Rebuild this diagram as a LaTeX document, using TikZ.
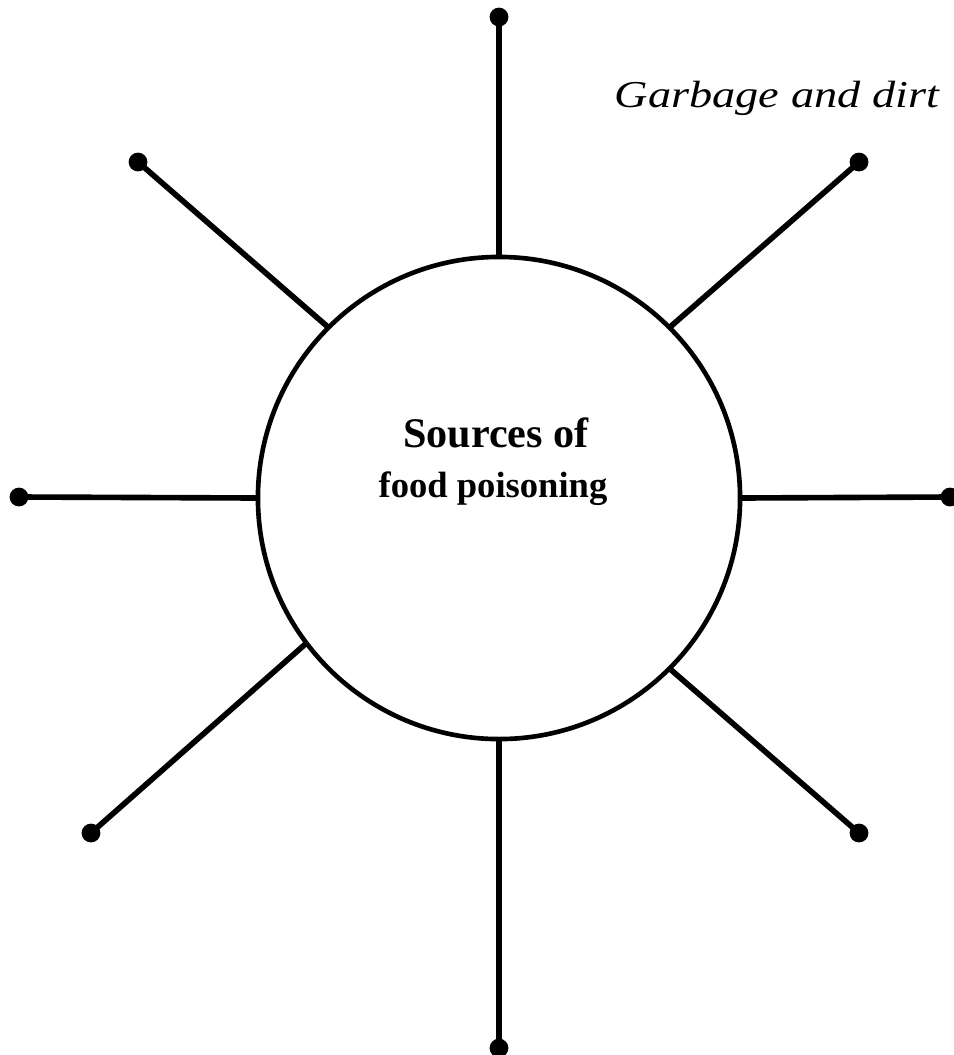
\documentclass[tikz,border=0pt]{standalone}
\usepackage{fontspec}
\setmainfont{Liberation Serif}

\begin{document}
\begin{tikzpicture}[x=0.025cm,y=-0.025cm,
  spoke/.style={line width=4pt},
  knob/.style={circle,fill=black,inner sep=0pt,minimum size=0.47cm}]
\useasboundingbox (0,0) rectangle (954,1055);
% Centre circle
\node[circle,draw,line width=3.3pt,minimum size=12.05cm,inner sep=0pt,outer sep=0pt] (src) at (499,498) {};
\node[anchor=base,font=\fontsize{30}{34}\selectfont\bfseries] (ttl1) at (496,447) {Sources of};
\node[anchor=base,font=\fontsize{26}{30}\selectfont\bfseries] (ttl2) at (493,497) {food poisoning};
% Knobs at the ends of the spokes
\node[knob] (kn) at (499,17) {};
\node[knob] (kne) at (859,162) {};
\node[knob] (ke) at (950,497) {};
\node[knob] (kse) at (859,833) {};
\node[knob] (ks) at (499,1048) {};
\node[knob] (ksw) at (91,833) {};
\node[knob] (kw) at (19,497) {};
\node[knob] (knw) at (138,162) {};
% Spokes
\foreach \a/\k in {90/kn,45/kne,0/ke,315/kse,270/ks,217/ksw,180/kw,135/knw}
  \draw[spoke] (src.\a) -- (\k.center);
% Label
\node[font=\fontsize{27}{30}\selectfont\itshape] (garb) at (777,98) {\scalebox{1.22}[1]{Garbage and dirt}};
\end{tikzpicture}
\end{document}
